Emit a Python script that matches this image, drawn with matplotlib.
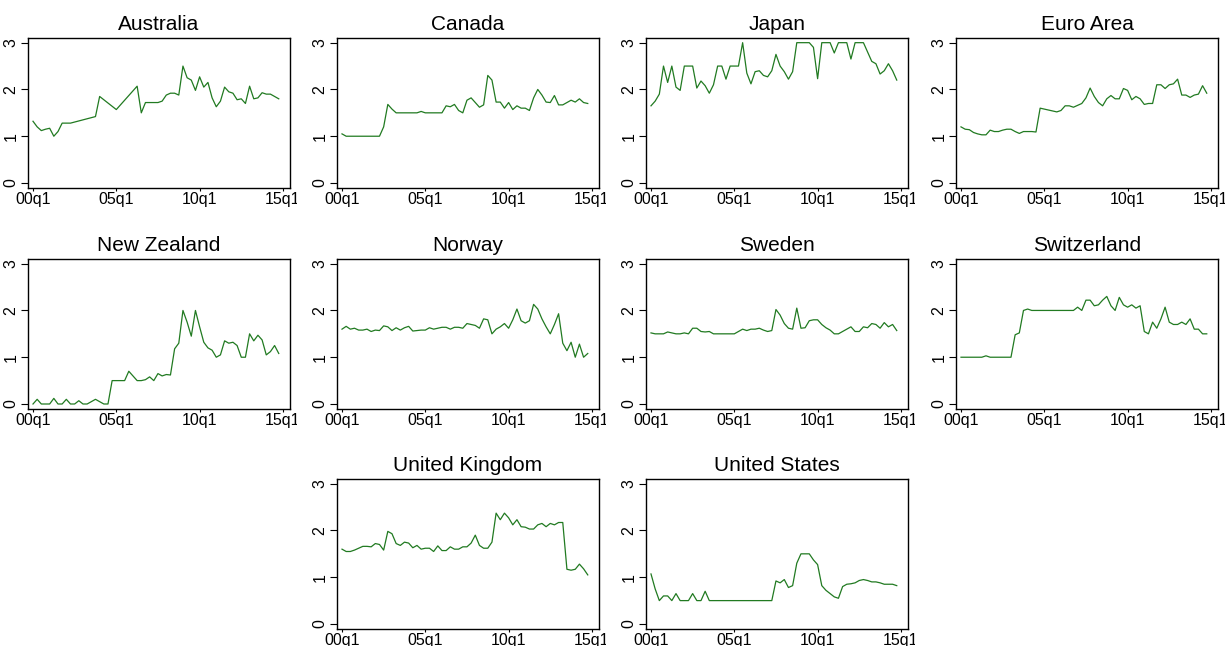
import numpy as np
import matplotlib.pyplot as plt
from matplotlib.transforms import Bbox

plt.rcParams['font.family'] = ['Liberation Sans', 'DejaVu Sans']

# quarterly observations 2000q1 .. 2014q4 (index 0..59)
quarters = np.arange(60)
tick_pos = [0, 20, 40, 60]
tick_labels = ['00q1', '05q1', '10q1', '15q1']

nan = np.nan
australia = [1.32, 1.2, 1.12, 1.15, 1.17, 1.0, 1.1, 1.28, 1.28, 1.28,
             nan, nan, nan, nan, nan, 1.42, 1.85, nan, nan, nan,
             1.57, nan, nan, nan, nan, 2.07, 1.5, 1.72, 1.72, 1.72,
             1.72, 1.75, 1.88, 1.92, 1.92, 1.88, 2.5, 2.25, 2.2, 1.98,
             2.27, 2.05, 2.15, 1.82, 1.63, 1.75, 2.05, 1.95, 1.92, 1.78,
             1.8, 1.7, 2.07, 1.8, 1.82, 1.93, 1.9, 1.9, 1.85, 1.8]
canada = [1.05, 1.0, 1.0, 1.0, 1.0, 1.0, 1.0, 1.0, 1.0, 1.0,
          1.2, 1.68, 1.58, 1.5, 1.5, 1.5, 1.5, 1.5, 1.5, 1.53,
          1.5, 1.5, 1.5, 1.5, 1.5, 1.65, 1.63, 1.68, 1.55, 1.5,
          1.77, 1.82, 1.72, 1.62, 1.67, 2.3, 2.2, 1.73, 1.73, 1.6,
          1.72, 1.57, 1.65, 1.6, 1.6, 1.55, 1.82, 2.0, 1.88, 1.73,
          1.72, 1.87, 1.67, 1.67, 1.72, 1.77, 1.73, 1.8, 1.72, 1.7]
japan = [1.65, 1.75, 1.9, 2.5, 2.15, 2.5, 2.05, 1.98, 2.5, 2.5,
         2.5, 2.03, 2.18, 2.08, 1.92, 2.1, 2.5, 2.5, 2.22, 2.5,
         2.5, 2.5, 3.0, 2.35, 2.12, 2.38, 2.4, 2.3, 2.27, 2.4,
         2.75, 2.5, 2.38, 2.22, 2.38, 3.0, 3.0, 3.0, 3.0, 2.9,
         2.23, 3.0, 3.0, 3.0, 2.78, 3.0, 3.0, 3.0, 2.65, 3.0,
         3.0, 3.0, 2.8, 2.6, 2.55, 2.33, 2.4, 2.55, 2.4, 2.2]
euro_area = [1.2, 1.15, 1.14, 1.08, 1.05, 1.03, 1.03, 1.13, 1.1, 1.1,
             1.13, 1.15, 1.15, 1.1, 1.06, 1.1, 1.1, 1.1, 1.09, 1.6,
             1.58, 1.56, 1.54, 1.52, 1.55, 1.65, 1.65, 1.62, 1.66, 1.7,
             1.82, 2.03, 1.85, 1.72, 1.65, 1.8, 1.87, 1.8, 1.8, 2.02,
             1.98, 1.78, 1.85, 1.8, 1.68, 1.7, 1.7, 2.1, 2.1, 2.02,
             2.1, 2.12, 2.22, 1.88, 1.88, 1.83, 1.88, 1.9, 2.08, 1.92]
new_zealand = [0.0, 0.1, 0.0, 0.0, 0.0, 0.12, 0.0, 0.0, 0.1, 0.0,
               0.0, 0.07, 0.0, 0.0, 0.05, 0.1, 0.05, 0.0, 0.0, 0.5,
               0.5, 0.5, 0.5, 0.7, 0.6, 0.5, 0.5, 0.52, 0.58, 0.5,
               0.65, 0.6, 0.63, 0.62, 1.18, 1.3, 2.0, 1.75, 1.45, 2.0,
               1.65, 1.32, 1.2, 1.15, 1.0, 1.05, 1.35, 1.3, 1.32, 1.25,
               1.0, 1.0, 1.5, 1.35, 1.47, 1.37, 1.05, 1.12, 1.25, 1.08]
norway = [1.6, 1.66, 1.6, 1.62, 1.58, 1.58, 1.6, 1.55, 1.58, 1.57,
          1.67, 1.65, 1.57, 1.63, 1.58, 1.63, 1.66, 1.56, 1.57, 1.58,
          1.58, 1.63, 1.6, 1.62, 1.64, 1.64, 1.6, 1.64, 1.64, 1.62,
          1.72, 1.7, 1.68, 1.62, 1.82, 1.8, 1.5, 1.6, 1.65, 1.72,
          1.62, 1.8, 2.03, 1.78, 1.73, 1.78, 2.13, 2.03, 1.82, 1.65,
          1.5, 1.7, 1.93, 1.3, 1.14, 1.32, 1.0, 1.28, 1.0, 1.08]
sweden = [1.52, 1.5, 1.5, 1.5, 1.54, 1.52, 1.5, 1.5, 1.52, 1.5,
          1.62, 1.62, 1.55, 1.54, 1.55, 1.5, 1.5, 1.5, 1.5, 1.5,
          1.5, 1.55, 1.6, 1.57, 1.6, 1.6, 1.62, 1.58, 1.55, 1.57,
          2.02, 1.9, 1.72, 1.62, 1.6, 2.05, 1.62, 1.63, 1.78, 1.8,
          1.8, 1.7, 1.63, 1.58, 1.5, 1.5, 1.55, 1.6, 1.65, 1.55,
          1.55, 1.65, 1.63, 1.72, 1.7, 1.62, 1.74, 1.65, 1.7, 1.57]
switzerland = [1.0, 1.0, 1.0, 1.0, 1.0, 1.0, 1.03, 1.0, 1.0, 1.0,
               1.0, 1.0, 1.0, 1.48, 1.52, 2.0, 2.03, 2.0, 2.0, 2.0,
               2.0, 2.0, 2.0, 2.0, 2.0, 2.0, 2.0, 2.0, 2.07, 2.0,
               2.22, 2.22, 2.1, 2.12, 2.22, 2.3, 2.1, 2.0, 2.28, 2.12,
               2.07, 2.12, 2.05, 2.1, 1.55, 1.5, 1.75, 1.62, 1.82, 2.07,
               1.75, 1.7, 1.7, 1.75, 1.7, 1.82, 1.6, 1.6, 1.5, 1.5]
united_kingdom = [1.6, 1.55, 1.55, 1.58, 1.62, 1.66, 1.66, 1.65, 1.72, 1.7,
                  1.58, 1.98, 1.93, 1.72, 1.68, 1.75, 1.73, 1.63, 1.68, 1.6,
                  1.62, 1.62, 1.55, 1.67, 1.57, 1.57, 1.65, 1.6, 1.6, 1.65,
                  1.65, 1.73, 1.9, 1.68, 1.62, 1.62, 1.75, 2.37, 2.23, 2.37,
                  2.27, 2.12, 2.23, 2.08, 2.07, 2.03, 2.03, 2.12, 2.15, 2.08,
                  2.15, 2.12, 2.17, 2.17, 1.17, 1.15, 1.17, 1.28, 1.18, 1.05]
united_states = [1.07, 0.75, 0.5, 0.6, 0.6, 0.5, 0.65, 0.5, 0.5, 0.5,
                 0.65, 0.5, 0.5, 0.7, 0.5, 0.5, 0.5, 0.5, 0.5, 0.5,
                 0.5, 0.5, 0.5, 0.5, 0.5, 0.5, 0.5, 0.5, 0.5, 0.5,
                 0.92, 0.88, 0.95, 0.78, 0.82, 1.3, 1.5, 1.5, 1.5, 1.37,
                 1.27, 0.82, 0.72, 0.65, 0.58, 0.55, 0.8, 0.85, 0.86, 0.88,
                 0.93, 0.95, 0.93, 0.9, 0.9, 0.88, 0.85, 0.85, 0.85, 0.82]

countries = ['Australia', 'Canada', 'Japan', 'Euro Area',
             'New Zealand', 'Norway', 'Sweden', 'Switzerland',
             'United Kingdom', 'United States']
series = [australia, canada, japan, euro_area,
          new_zealand, norway, sweden, switzerland,
          united_kingdom, united_states]

W, H = 1225, 646
fig = plt.figure(figsize=(W / 100, H / 100), dpi=100)

# plot-region placement in pixels
lefts = [28, 337, 646, 956]
tops = [38, 259, 479]
pw, ph = 262, 150
slots = [(r, c) for r in range(2) for c in range(4)] + [(2, 1), (2, 2)]

for name, vals, (r, c) in zip(countries, series, slots):
    left, top = lefts[c], tops[r]
    ax = fig.add_axes([left / W, 1 - (top + ph) / H, pw / W, ph / H])
    y = np.array(vals, dtype=float)
    ok = ~np.isnan(y)
    ax.plot(quarters[ok], y[ok], color='#217a21', lw=0.9)

    ax.set_xlim(-1.2, 61.7)
    ax.set_ylim(-0.107, 3.1)
    ax.set_xticks(tick_pos)
    ax.set_xticklabels(tick_labels)
    ax.set_yticks([0, 1, 2, 3])
    ax.tick_params(direction='out', width=0.8, labelsize=11.5)
    ax.tick_params(axis='x', length=2, pad=1)
    ax.tick_params(axis='y', length=5, pad=2)
    for lab in ax.get_yticklabels():
        lab.set_rotation(90)
        lab.set_va('center')
    for sp in ax.spines.values():
        sp.set_linewidth(1.0)
    ax.set_title(name, fontsize=15, pad=6)

    # each sub-graph clips its own labels (like the combined graph regions)
    clip = Bbox.from_extents(left - 28, 0, left + 269, H)
    for lab in ax.get_xticklabels():
        lab.set_clip_box(clip)
        lab.set_clip_on(True)

fig.savefig('out.png', dpi=100)
